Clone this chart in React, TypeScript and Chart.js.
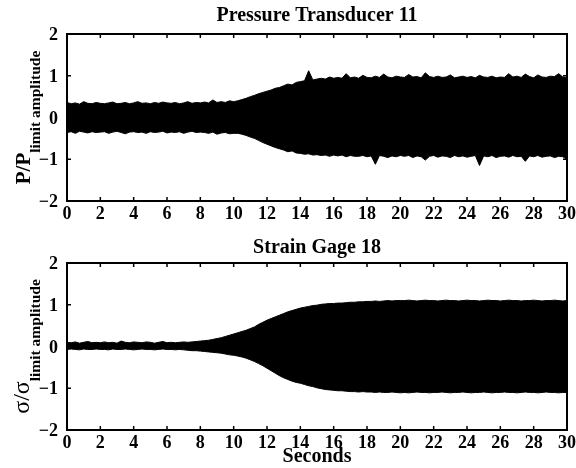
import React, { useEffect, useRef } from 'react';
import { Chart, registerables } from 'chart.js';

Chart.register(...registerables);

// Sample spacing (seconds) of the envelope values
const TIME_STEP = 0.25;

// Pressure Transducer 11: upper / lower envelope of the oscillating signal (t = 0 .. 30 s)
const pressureUpper = [
  0.36, 0.33, 0.35, 0.32, 0.38, 0.34, 0.33, 0.36, 0.34,
  0.33, 0.35, 0.37, 0.33, 0.34, 0.36, 0.33, 0.35,
  0.38, 0.34, 0.35, 0.33, 0.36, 0.34, 0.37, 0.35,
  0.34, 0.36, 0.33, 0.35, 0.38, 0.34, 0.36, 0.35,
  0.37, 0.35, 0.42, 0.36, 0.38, 0.36, 0.40, 0.38,
  0.40, 0.43, 0.46, 0.50, 0.53, 0.57, 0.60, 0.63,
  0.66, 0.70, 0.72, 0.76, 0.80, 0.78, 0.84, 0.86,
  0.88, 1.12, 0.90, 0.92, 0.94, 0.92, 0.97, 0.94,
  0.96, 0.94, 1.05, 0.95, 0.97, 0.94, 1.01, 0.96,
  0.95, 0.99, 0.96, 1.04, 0.97, 0.95, 0.99, 0.97,
  0.96, 1.03, 0.97, 0.98, 0.95, 1.07, 0.98, 0.96,
  0.99, 0.96, 0.97, 1.02, 0.95, 0.97, 0.99, 0.96,
  0.98, 0.95, 1.01, 0.97, 0.96, 0.99, 0.95, 0.97,
  0.96, 1.05, 0.97, 0.99, 0.96, 1.04, 0.98, 0.95,
  1.02, 0.97, 0.96, 0.99, 0.98, 1.05, 0.97, 0.96,
];
const pressureLower = [
  -0.36, -0.34, -0.38, -0.33, -0.35, -0.37, -0.34, -0.36, -0.35,
  -0.34, -0.38, -0.35, -0.33, -0.36, -0.39, -0.35, -0.34,
  -0.36, -0.35, -0.38, -0.34, -0.36, -0.35, -0.33, -0.37,
  -0.35, -0.36, -0.34, -0.38, -0.35, -0.33, -0.36, -0.35,
  -0.36, -0.38, -0.35, -0.40, -0.37, -0.36, -0.39, -0.38,
  -0.38, -0.40, -0.43, -0.47, -0.50, -0.55, -0.60, -0.64,
  -0.68, -0.72, -0.75, -0.78, -0.82, -0.80, -0.85, -0.86,
  -0.88, -0.87, -0.90, -0.89, -0.91, -0.90, -0.93, -0.90,
  -0.92, -0.90, -0.94, -0.91, -0.93, -0.93, -0.91, -0.94,
  -0.92, -1.12, -0.91, -0.93, -0.96, -0.92, -0.94, -0.91,
  -0.93, -0.91, -0.96, -0.92, -0.94, -1.02, -0.93, -0.91,
  -0.95, -0.92, -0.93, -0.96, -0.91, -0.94, -0.92, -0.95,
  -0.93, -0.91, -1.15, -0.92, -0.94, -0.91, -0.96, -0.93,
  -0.92, -0.95, -0.91, -0.94, -0.93, -1.05, -0.92, -0.94,
  -0.91, -0.95, -0.93, -0.92, -0.96, -0.93, -0.94, -1.00,
];

// Strain Gage 18: upper / lower envelope (t = 0 .. 30 s)
const strainUpper = [
  0.10, 0.09, 0.11, 0.08, 0.10, 0.12, 0.09, 0.10, 0.09,
  0.11, 0.09, 0.10, 0.08, 0.13, 0.10, 0.09, 0.11,
  0.10, 0.09, 0.11, 0.10, 0.08, 0.10, 0.12, 0.09,
  0.10, 0.09, 0.10, 0.11, 0.10, 0.11, 0.12, 0.13,
  0.14, 0.15, 0.17, 0.19, 0.21, 0.24, 0.27, 0.30,
  0.33, 0.36, 0.39, 0.43, 0.47, 0.53, 0.58, 0.63,
  0.67, 0.71, 0.75, 0.79, 0.83, 0.86, 0.89, 0.92,
  0.94, 0.96, 0.98, 0.99, 1.01, 1.02, 1.03, 1.03,
  1.04, 1.04, 1.05, 1.06, 1.06, 1.07, 1.07, 1.08,
  1.08, 1.09, 1.08, 1.09, 1.10, 1.09, 1.10, 1.10,
  1.10, 1.11, 1.10, 1.09, 1.10, 1.11, 1.10, 1.10,
  1.09, 1.10, 1.11, 1.10, 1.10, 1.09, 1.10, 1.11,
  1.10, 1.10, 1.09, 1.10, 1.11, 1.10, 1.10, 1.09,
  1.10, 1.11, 1.10, 1.10, 1.09, 1.10, 1.10, 1.11,
  1.10, 1.09, 1.10, 1.10, 1.11, 1.10, 1.09, 1.10,
];
const strainLower = [
  -0.07, -0.06, -0.07, -0.08, -0.06, -0.07, -0.07, -0.06, -0.07,
  -0.07, -0.08, -0.06, -0.07, -0.07, -0.06, -0.07, -0.08,
  -0.07, -0.06, -0.07, -0.07, -0.08, -0.07, -0.06, -0.07,
  -0.07, -0.08, -0.07, -0.08, -0.09, -0.10, -0.10, -0.11,
  -0.12, -0.13, -0.14, -0.15, -0.16, -0.18, -0.20, -0.21,
  -0.23, -0.25, -0.28, -0.32, -0.36, -0.41, -0.46, -0.52,
  -0.58, -0.64, -0.70, -0.75, -0.79, -0.83, -0.86, -0.88,
  -0.91, -0.94, -0.96, -0.99, -1.01, -1.03, -1.04, -1.05,
  -1.06, -1.06, -1.07, -1.08, -1.08, -1.09, -1.08, -1.09,
  -1.09, -1.10, -1.09, -1.10, -1.10, -1.09, -1.10, -1.11,
  -1.10, -1.11, -1.10, -1.09, -1.10, -1.10, -1.11, -1.10,
  -1.10, -1.09, -1.10, -1.11, -1.10, -1.10, -1.09, -1.10,
  -1.11, -1.10, -1.10, -1.09, -1.10, -1.11, -1.10, -1.10,
  -1.09, -1.10, -1.10, -1.11, -1.10, -1.09, -1.10, -1.10,
  -1.11, -1.10, -1.09, -1.10, -1.10, -1.11, -1.10, -1.10,
];

// Axes
const X_MIN = 0;
const X_MAX = 30;
const X_STEP = 2;
const Y_MIN = -2;
const Y_MAX = 2;
const Y_STEP = 1;

const TITLES = ['Pressure Transducer 11', 'Strain Gage 18'];
const X_LABEL = 'Seconds';

const SERIF = "'Liberation Serif', 'Times New Roman', Times, serif";

function toPoints(vals: number[]) {
  return vals.map((v, i) => ({ x: i * TIME_STEP, y: v }));
}

const framePlugin = {
  id: 'frame',
  afterDatasetsDraw(chart: any) {
    const { ctx, chartArea: a, scales } = chart;
    const xs = scales.x;
    const ys = scales.y;
    const L = 4;
    ctx.save();
    ctx.strokeStyle = '#000';
    ctx.lineWidth = 1.5;
    ctx.beginPath();
    xs.ticks.forEach((t: any) => {
      const px = xs.getPixelForValue(t.value);
      if (px <= a.left + 1 || px >= a.right - 1) return;
      ctx.moveTo(px, a.bottom);
      ctx.lineTo(px, a.bottom - L);
      ctx.moveTo(px, a.top);
      ctx.lineTo(px, a.top + L);
    });
    ys.ticks.forEach((t: any) => {
      const py = ys.getPixelForValue(t.value);
      if (py <= a.top + 1 || py >= a.bottom - 1) return;
      ctx.moveTo(a.left, py);
      ctx.lineTo(a.left + L, py);
      ctx.moveTo(a.right, py);
      ctx.lineTo(a.right - L, py);
    });
    ctx.stroke();
    ctx.lineWidth = 2;
    ctx.strokeRect(a.left, a.top, a.right - a.left, a.bottom - a.top);
    ctx.restore();
  },
};

const yLabelPlugin = {
  id: 'ylabel',
  afterDraw(chart: any, _args: any, opts: any) {
    const { ctx, chartArea: a } = chart;
    ctx.save();
    ctx.fillStyle = '#000';
    ctx.textBaseline = 'alphabetic';
    ctx.textAlign = 'left';
    ctx.font = opts.mainFont;
    const wMain = ctx.measureText(opts.main).width;
    ctx.font = opts.subFont;
    const wSub = ctx.measureText(opts.sub).width;
    const total = wMain + wSub;
    const cy = (a.top + a.bottom) / 2;
    ctx.translate(opts.mainX, cy + total / 2);
    ctx.rotate(-Math.PI / 2);
    ctx.font = opts.mainFont;
    ctx.fillText(opts.main, 0, 0);
    ctx.font = opts.subFont;
    ctx.fillText(opts.sub, wMain, opts.subX - opts.mainX);
    ctx.restore();
  },
};

function buildConfig(
  upper: number[],
  lower: number[],
  title: string,
  titlePad: { top: number; bottom: number },
  xAxisHeight: number,
  xTitle: string | null,
  yLabel: any
) {
  const tickFont = { family: SERIF, size: 18, weight: 'bold' as const, lineHeight: 1 };
  return {
    type: 'line' as const,
    data: {
      datasets: [
        {
          data: toPoints(upper),
          borderColor: '#000',
          backgroundColor: '#000',
          borderWidth: 1,
          pointRadius: 0,
          tension: 0,
          fill: '+1',
        },
        {
          data: toPoints(lower),
          borderColor: '#000',
          backgroundColor: '#000',
          borderWidth: 1,
          pointRadius: 0,
          tension: 0,
          fill: false,
        },
      ],
    },
    options: {
      animation: false,
      responsive: false,
      events: [],
      layout: { padding: { left: 0, right: 9, top: 0, bottom: 0 } },
      plugins: {
        legend: { display: false },
        tooltip: { enabled: false },
        title: {
          display: true,
          text: title,
          color: '#000',
          fullSize: false,
          font: { family: SERIF, size: 20, weight: 'bold', lineHeight: 1.2 },
          padding: titlePad,
        },
        ylabel: yLabel,
      },
      scales: {
        x: {
          type: 'linear',
          min: X_MIN,
          max: X_MAX,
          grid: { display: false, drawTicks: false },
          border: { display: false },
          ticks: {
            stepSize: X_STEP,
            autoSkip: false,
            maxRotation: 0,
            padding: 4,
            color: '#000',
            font: tickFont,
          },
          title: xTitle
            ? {
                display: true,
                text: xTitle,
                color: '#000',
                font: { family: SERIF, size: 20, weight: 'bold', lineHeight: 1.1 },
                padding: { top: 0, bottom: 0 },
              }
            : { display: false },
          afterFit: (s: any) => {
            s.height = xAxisHeight;
            s.paddingLeft = 0;
            s.paddingRight = 0;
          },
        },
        y: {
          type: 'linear',
          min: Y_MIN,
          max: Y_MAX,
          grid: { display: false, drawTicks: false },
          border: { display: false },
          ticks: {
            stepSize: Y_STEP,
            padding: 9,
            labelOffset: 1.5,
            color: '#000',
            font: tickFont,
            callback: (v: number) => (v < 0 ? '\u2212' + Math.abs(v) : String(v)),
          },
          afterFit: (s: any) => {
            s.width = 67;
            s.paddingTop = 0;
            s.paddingBottom = 0;
          },
        },
      },
    },
    plugins: [framePlugin, yLabelPlugin],
  };
}

export default function App() {
  const topRef = useRef<HTMLCanvasElement>(null);
  const botRef = useRef<HTMLCanvasElement>(null);

  useEffect(() => {
    const top = new Chart(
      topRef.current as HTMLCanvasElement,
      buildConfig(pressureUpper, pressureLower, TITLES[0], { top: 4, bottom: 6 }, 33, null, {
        main: 'P/P',
        sub: 'limit amplitude',
        mainFont: `bold 21px ${SERIF}`,
        subFont: `bold 15.5px ${SERIF}`,
        mainX: 30,
        subX: 40,
      }) as any
    );
    const bot = new Chart(
      botRef.current as HTMLCanvasElement,
      buildConfig(strainUpper, strainLower, TITLES[1], { top: 2, bottom: 3 }, 38, X_LABEL, {
        main: '\u03c3/\u03c3',
        sub: 'limit amplitude',
        mainFont: `24px ${SERIF}`,
        subFont: `bold 15.5px ${SERIF}`,
        mainX: 28.5,
        subX: 40,
      }) as any
    );
    return () => {
      top.destroy();
      bot.destroy();
    };
  }, []);

  return (
    <div style={{ position: 'fixed', left: 0, top: 0, width: 576, height: 468, background: '#fff' }}>
      <canvas ref={topRef} width={576} height={234} style={{ display: 'block', width: 576, height: 234 }} />
      <canvas ref={botRef} width={576} height={234} style={{ display: 'block', width: 576, height: 234 }} />
    </div>
  );
}
